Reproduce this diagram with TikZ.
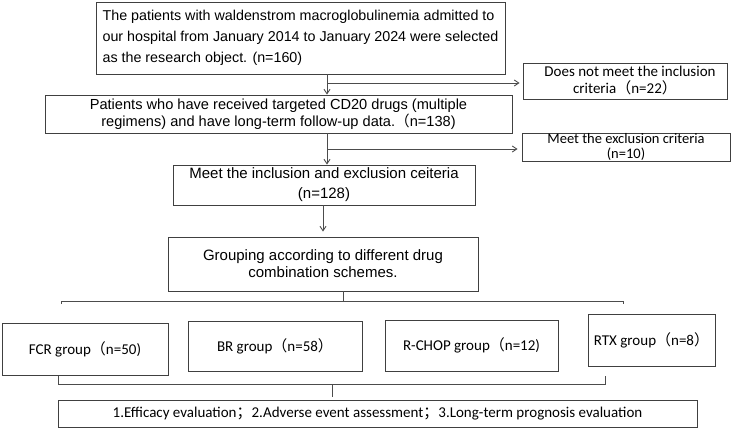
\documentclass[tikz,border=0pt]{standalone}
\usepackage{fontspec}
\setmainfont{Liberation Sans}
\newfontfamily\calfont{Carlito}
\newfontfamily\cjk{Noto Sans CJK SC}
\usetikzlibrary{arrows.meta}
\newcommand\flp{{\cjk （}}
\newcommand\frp{{\cjk ）}}
\newcommand\fsemi{{\cjk ；}}
\begin{document}
\begin{tikzpicture}[x=1pt,y=-1pt,
  box/.style={draw=black!75, line width=0.9pt, inner sep=0pt, align=center, text=black},
  conn/.style={draw=black!70, line width=0.9pt},
  arr/.style={conn, -{Straight Barb[length=4.5pt,width=6pt]}}]
\useasboundingbox (0,0) rectangle (731,428);
\fill[white] (0,0) rectangle (731,428);

\node[box, minimum width=409pt, minimum height=72pt, align=left,
  font=\fontsize{14.3}{21}\selectfont] (b1) at (300.5,38)
  {The patients with waldenstrom macroglobulinemia admitted to\\
   our hospital from January 2014 to January 2024 were selected\\
   as the research object. (n=160)};

\node[box, minimum width=467pt, minimum height=38pt,
  font=\fontsize{14.6}{17}\selectfont] (b2) at (278.5,114)
  {Patients who have received targeted CD20 drugs (multiple\\
   regimens) and have long-term follow-up data.\flp n=138)};

\node[box, minimum width=302pt, minimum height=40pt,
  font=\fontsize{15}{20}\selectfont] (b3) at (324,185)
  {Meet the inclusion and exclusion ceiteria\\(n=128)};

\node[box, minimum width=310pt, minimum height=54pt,
  font=\fontsize{15}{17}\selectfont] (b4) at (323,264)
  {Grouping according to different drug\\combination schemes.};

\node[box, minimum width=204pt, minimum height=36pt,
  font=\calfont\fontsize{15}{17}\selectfont] (r1) at (625,81)
  {\hspace*{10pt}Does not meet the inclusion\\criteria\flp n=22\frp};

\node[box, minimum width=208pt, minimum height=28pt,
  font=\calfont\fontsize{14.5}{15}\selectfont] (r2) at (626,147)
  {Meet the exclusion criteria\\(n=10)};

\node[box, minimum width=166pt, minimum height=52pt,
  font=\calfont\fontsize{15}{17}\selectfont] (g1) at (85,349)
  {FCR group\flp n=50)};
\node[box, minimum width=174pt, minimum height=50pt,
  font=\calfont\fontsize{15}{17}\selectfont] (g2) at (275,346)
  {BR group\flp n=58\frp};
\node[box, minimum width=173pt, minimum height=51pt,
  font=\calfont\fontsize{15}{17}\selectfont] (g3) at (471.5,345.5)
  {R-CHOP group\flp n=12)};
\node[box, minimum width=127pt, minimum height=52pt,
  font=\calfont\fontsize{15}{17}\selectfont] (g4) at (651.5,340)
  {RTX group\flp n=8\frp};

\node[box, minimum width=639pt, minimum height=27pt,
  font=\calfont\fontsize{15}{17}\selectfont] (bot) at (377.5,413.5)
  {1.Efficacy evaluation\fsemi 2.Adverse event assessment\fsemi 3.Long-term prognosis evaluation};

% vertical flow
\coordinate (va) at (327,0);
\coordinate (j1) at (327,83);
\coordinate (j2) at (327,149);
\draw[arr] (va |- b1.south) -- (va |- b2.north);
\draw[arr, shorten >=3pt] (j1) -- (j1 -| r1.west);
\draw[arr] (va |- b2.south) -- (va |- b3.north);
\draw[arr, shorten >=4pt] (j2) -- (j2 -| r2.west);
\draw[arr, shorten >=5pt] (b4.north |- b3.south) -- (b4.north);

% top bracket
\coordinate (tk) at (343,301);
\draw[conn] (61,304) -- (61,301) -- (623,301) -- (623,304);
\draw[conn] (tk |- b4.south) -- (tk);

% bottom bracket
\coordinate (bk) at (332,384);
\draw[conn] (58,376) -- (58,384) -- (605,384) -- (605,376);
\draw[conn, shorten >=3pt] (bk) -- (bk |- bot.north);
\end{tikzpicture}
\end{document}
